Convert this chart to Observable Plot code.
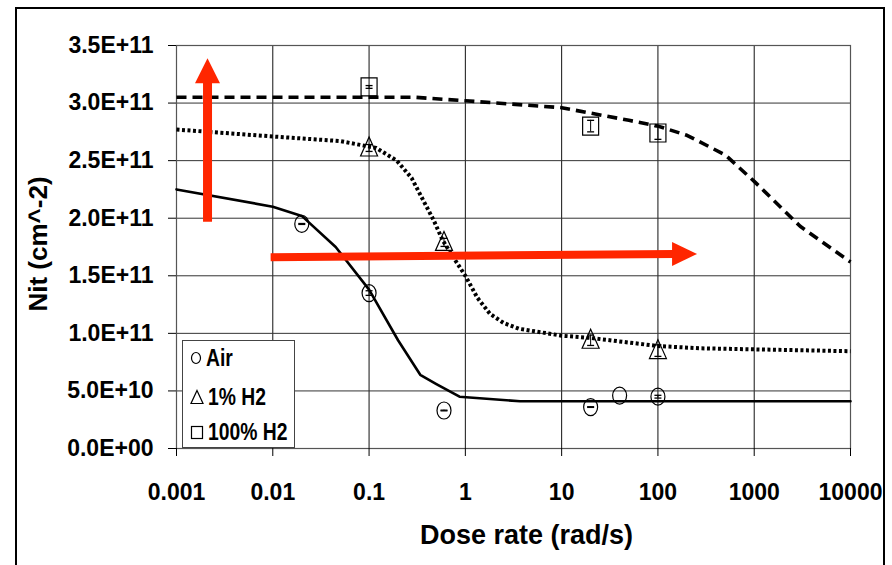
<!DOCTYPE html>
<html>
<head>
<meta charset="utf-8">
<script src="https://cdn.jsdelivr.net/npm/d3@7"></script>
<script src="https://cdn.jsdelivr.net/npm/@observablehq/plot@0.6"></script>
<style>
  body { margin: 0; background: #fff; }
  #wrap { position: relative; width: 892px; height: 565px; overflow: hidden; font-family: "Liberation Sans", Arial, sans-serif; }
  #border { position: absolute; left: 15px; top: 7px; width: 866px; height: 620px; border: 2px solid #000; pointer-events: none; }
  #legend { position: absolute; left: 182px; top: 340px; width: 113px; height: 108px; border: 1px solid #444; background: #fff; box-sizing: border-box; }
  .row { position: absolute; left: 0; height: 26px; display: flex; align-items: center; font-weight: bold; font-size: 23px; color: #000; white-space: nowrap; }
  .row svg { margin-left: 7px; margin-right: 4px; flex: none; }
  .row span { display: inline-block; transform: scaleX(0.84); transform-origin: left center; }
</style>
</head>
<body>
<div id="wrap">
  <div id="chart"></div>
  <div id="legend"></div>
  <div id="border"></div>
</div>
<script>
// ---- tick definitions ----
const xTicks = [0.001, 0.01, 0.1, 1, 10, 100, 1000, 10000];
const xTickLabels = ["0.001", "0.01", "0.1", "1", "10", "100", "1000", "10000"];
const yTicks = [0, 5e10, 1e11, 1.5e11, 2e11, 2.5e11, 3e11, 3.5e11];
const yTickLabels = ["0.0E+00", "5.0E+10", "1.0E+11", "1.5E+11", "2.0E+11", "2.5E+11", "3.0E+11", "3.5E+11"];

// ---- series names ----
const seriesNames = ["Air", "1% H2", "100% H2"];

// ---- measured points (dose rate, Nit, error) ----
const airX = [0.02, 0.1, 0.6, 20, 40, 100];
const airY = [1.95e11, 1.35e11, 0.33e11, 0.36e11, 0.46e11, 0.45e11];
const airErr = [0.004e11, 0.02e11, 0.003e11, 0.003e11, 0, 0.012e11];

const h1X = [0.1, 0.6, 20, 100];
const h1Y = [2.61e11, 1.79e11, 0.94e11, 0.85e11];
const h1Err = [0.03e11, 0.035e11, 0.045e11, 0.05e11];

const h100X = [0.1, 20, 100];
const h100Y = [3.14e11, 2.80e11, 2.74e11];
const h100Err = [0.012e11, 0.05e11, 0.055e11];

// ---- model curves ----
const airLineX = [0.001, 0.01, 0.02, 0.045, 0.1, 0.2, 0.34, 0.5, 0.87, 3.7, 10000];
const airLineY = [2.25e11, 2.10e11, 2.02e11, 1.75e11, 1.38e11, 0.94e11, 0.64e11, 0.56e11, 0.45e11, 0.41e11, 0.41e11];

const h1LineX = [0.001, 0.01, 0.05, 0.119, 0.194, 0.276, 0.47, 0.58, 0.75, 1.0, 1.33, 1.8, 2.5, 3.6, 10, 20, 100, 280, 10000];
const h1LineY = [2.77e11, 2.71e11, 2.67e11, 2.61e11, 2.50e11, 2.35e11, 1.98e11, 1.81e11, 1.66e11, 1.50e11, 1.31e11, 1.17e11, 1.09e11, 1.04e11, 0.98e11, 0.96e11, 0.89e11, 0.87e11, 0.845e11];

const h100LineX = [0.001, 0.3, 1, 10, 50, 100, 200, 500, 1000, 3000, 10000];
const h100LineY = [3.05e11, 3.05e11, 3.02e11, 2.96e11, 2.85e11, 2.80e11, 2.72e11, 2.55e11, 2.32e11, 1.93e11, 1.62e11];

// ---- red annotation arrows ----
const upArrowX = [0.0021];
const upArrowY = [1.97e11, 3.18e11, 3.39e11];   // shaft start, shaft end, tip
const rightArrowX = [0.0095, 145, 255];          // shaft start, shaft end, tip
const rightArrowY = [1.66e11, 1.69e11];
const red = "rgb(255,38,0)";

const pts = (xs, ys, es) => xs.map((x, i) => ({x, y: ys[i], e: es ? es[i] : 0}));
const air = pts(airX, airY, airErr);
const h1 = pts(h1X, h1Y, h1Err);
const h100 = pts(h100X, h100Y, h100Err);

// ---- custom symbols ----
const ellipseSym = {draw(c) { const rx = 7, ry = 8.5, k = 0.5523;
  c.moveTo(rx, 0);
  c.bezierCurveTo(rx, ry * k, rx * k, ry, 0, ry);
  c.bezierCurveTo(-rx * k, ry, -rx, ry * k, -rx, 0);
  c.bezierCurveTo(-rx, -ry * k, -rx * k, -ry, 0, -ry);
  c.bezierCurveTo(rx * k, -ry, rx, -ry * k, rx, 0);
  c.closePath(); }};
const triSym = {draw(c) { c.moveTo(0, -11); c.lineTo(8.5, 8); c.lineTo(-8.5, 8); c.closePath(); }};
const sqSym = {draw(c) { c.rect(-8, -9, 16, 18); }};
const capSym = {draw(c) { c.moveTo(-3.5, 0); c.lineTo(3.5, 0); }};
const upHead = {draw(c) { c.moveTo(0, 0); c.lineTo(12.5, 25); c.lineTo(-12.5, 25); c.closePath(); }};
const rightHead = {draw(c) { c.moveTo(0, 0); c.lineTo(-25, -12); c.lineTo(-25, 12); c.closePath(); }};

const errMarks = (d) => [
  Plot.ruleX(d.filter(p => p.e > 0), {x: "x", y1: p => p.y - p.e, y2: p => p.y + p.e, stroke: "#000", strokeWidth: 1}),
  Plot.dot(d.filter(p => p.e > 0), {x: "x", y: p => p.y - p.e, symbol: capSym, stroke: "#000", strokeWidth: 1.3, fill: "none"}),
  Plot.dot(d.filter(p => p.e > 0), {x: "x", y: p => p.y + p.e, symbol: capSym, stroke: "#000", strokeWidth: 1.3, fill: "none"})
];

const font = "'Liberation Sans', Arial, sans-serif";

const chart = Plot.plot({
  width: 892,
  height: 565,
  marginLeft: 176,
  marginRight: 42,
  marginTop: 45,
  marginBottom: 117,
  style: {fontFamily: font, background: "transparent", color: "#000"},
  x: {type: "log", domain: [0.001, 10000]},
  y: {domain: [0, 3.5e11]},
  marks: [
    Plot.gridX(xTicks, {stroke: "#111", strokeOpacity: 1, strokeWidth: 1}),
    Plot.gridY(yTicks, {stroke: "#333", strokeOpacity: 1, strokeWidth: 1}),
    Plot.frame({stroke: "#555", strokeWidth: 1.2}),
    Plot.axisX(xTicks, {tickSize: 8, tickPadding: 27, fontSize: 23, fontWeight: "bold",
      tickFormat: d => xTickLabels[xTicks.indexOf(d)], label: null, stroke: "#000"}),
    Plot.axisY(yTicks, {tickSize: 8, tickPadding: 15, fontSize: 23, fontWeight: "bold",
      tickFormat: d => yTickLabels[yTicks.indexOf(d)], label: null, stroke: "#000"}),
    Plot.text(["Dose rate (rad/s)"], {frameAnchor: "bottom", dx: 13, dy: 95, fontSize: 27, fontWeight: "bold", fill: "#000"}),
    Plot.text(["Nit (cm^-2)"], {frameAnchor: "left", rotate: -90, textAnchor: "middle", lineAnchor: "middle", dx: -138, dy: -3, fontSize: 26, fontWeight: "bold", fill: "#000"}),
    // model curves
    Plot.line(pts(h100LineX, h100LineY), {x: "x", y: "y", stroke: "#000", strokeWidth: 3.6, strokeDasharray: "10,6", strokeLinecap: "butt", strokeLinejoin: "miter"}),
    Plot.line(pts(h1LineX, h1LineY), {x: "x", y: "y", stroke: "#000", strokeWidth: 4, strokeDasharray: "3,2.5", strokeLinecap: "butt", strokeLinejoin: "miter"}),
    Plot.line(pts(airLineX, airLineY), {x: "x", y: "y", stroke: "#000", strokeWidth: 2.6}),
    // red arrows
    Plot.link([0], {x1: () => upArrowX[0], x2: () => upArrowX[0], y1: () => upArrowY[0], y2: () => upArrowY[1], stroke: red, strokeWidth: 9, strokeLinecap: "butt"}),
    Plot.dot([0], {x: () => upArrowX[0], y: () => upArrowY[2], symbol: upHead, fill: red, stroke: "none"}),
    Plot.link([0], {x1: () => rightArrowX[0], x2: () => rightArrowX[1], y1: () => rightArrowY[0], y2: () => rightArrowY[1], stroke: red, strokeWidth: 8, strokeLinecap: "butt"}),
    Plot.dot([0], {x: () => rightArrowX[2], y: () => rightArrowY[1], symbol: rightHead, fill: red, stroke: "none"}),
    // error bars
    ...errMarks(air), ...errMarks(h1), ...errMarks(h100),
    // markers
    Plot.dot(air, {x: "x", y: "y", symbol: ellipseSym, fill: "none", stroke: "#000", strokeWidth: 1.2}),
    Plot.dot(h1, {x: "x", y: "y", symbol: triSym, fill: "none", stroke: "#000", strokeWidth: 1.2}),
    Plot.dot(h100, {x: "x", y: "y", symbol: sqSym, fill: "none", stroke: "#000", strokeWidth: 1.2})
  ]
});
document.getElementById("chart").appendChild(chart);

// ---- legend ----
const legendIcons = [
  '<svg width="12" height="14"><ellipse cx="6" cy="7" rx="4.5" ry="5.5" fill="none" stroke="#000" stroke-width="1.2"/></svg>',
  '<svg width="14" height="16"><path d="M7,1.5L13,14.5L1,14.5Z" fill="none" stroke="#000" stroke-width="1.2"/></svg>',
  '<svg width="14" height="15"><rect x="1.5" y="1.5" width="11" height="12" fill="none" stroke="#000" stroke-width="1.2"/></svg>'
];
const legendTops = [4, 43, 78];
const legend = document.getElementById("legend");
seriesNames.forEach((name, i) => {
  const row = document.createElement("div");
  row.className = "row";
  row.style.top = legendTops[i] + "px";
  row.innerHTML = legendIcons[i] + "<span>" + name + "</span>";
  legend.appendChild(row);
});
</script>
</body>
</html>
